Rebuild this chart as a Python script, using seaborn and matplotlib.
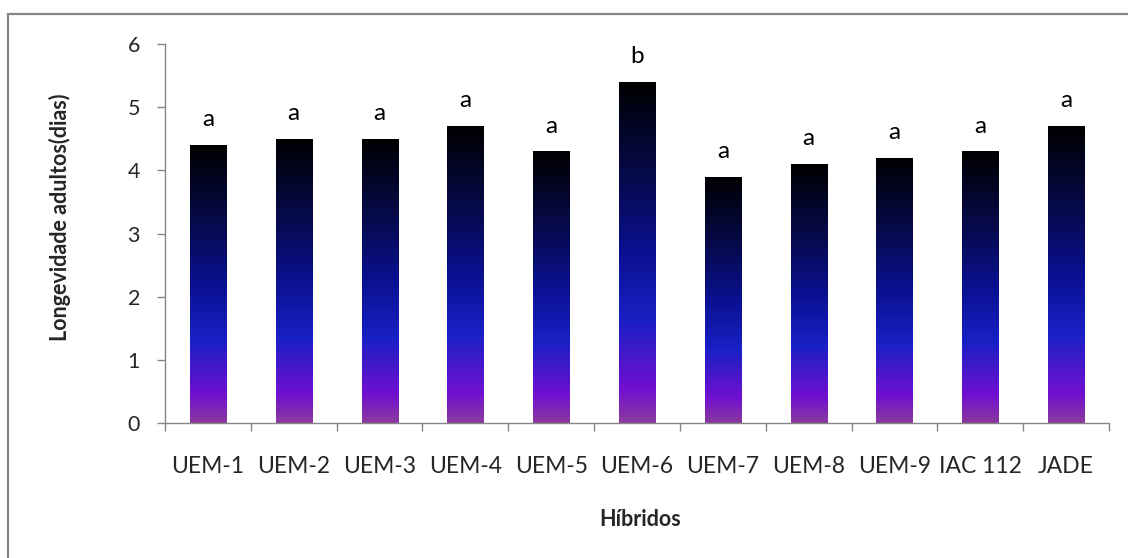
import numpy as np
import pandas as pd
import matplotlib
matplotlib.use("Agg")
import matplotlib.pyplot as plt
import seaborn as sns
from matplotlib.colors import LinearSegmentedColormap
from matplotlib.patches import Rectangle

hibridos = ["UEM-1", "UEM-2", "UEM-3", "UEM-4", "UEM-5", "UEM-6",
            "UEM-7", "UEM-8", "UEM-9", "IAC 112", "JADE"]
longevidade = [4.4, 4.5, 4.5, 4.7, 4.3, 5.4, 3.9, 4.1, 4.2, 4.3, 4.7]
letras = ["a", "a", "a", "a", "a", "b", "a", "a", "a", "a", "a"]
yticks = [0, 1, 2, 3, 4, 5, 6]

sns.set_theme(style="white")
plt.rcParams['font.family'] = ['Lato', 'DejaVu Sans']

df = pd.DataFrame({"Híbridos": hibridos, "Longevidade": longevidade})

fig = plt.figure(figsize=(11.28, 5.58), dpi=100)
ax = fig.add_axes([165/1128, (558-423)/558, (1109-165)/1128, (423-44)/558])

sns.barplot(data=df, x="Híbridos", y="Longevidade", ax=ax, width=0.42,
            color="#1820c4", saturation=1)

cmap = LinearSegmentedColormap.from_list("grad", [
    (0.0, "#8b3a9e"), (0.1, "#7010d0"), (0.3, "#1820c4"),
    (0.5, "#0a1090"), (0.72, "#060a4c"), (1.0, "#000000")])
grad = np.linspace(0, 1, 256).reshape(-1, 1)

ax.set_ylim(0, 6)
ax.set_xlim(-0.5, len(hibridos) - 0.5)

for p in list(ax.patches):
    x0, y0 = p.get_x(), p.get_y()
    w, h = p.get_width(), p.get_height()
    im = ax.imshow(grad, cmap=cmap, origin="lower", aspect="auto",
                   extent=[x0, x0 + w, y0, y0 + h], zorder=2,
                   interpolation="bilinear")
    im.set_clip_path(p)
    p.set_facecolor("none")
    p.set_edgecolor("none")

ax.set_xlim(-0.5, len(hibridos) - 0.5)
ax.set_ylim(0, 6)

for i, (v, l) in enumerate(zip(longevidade, letras)):
    ax.annotate(l, xy=(i, v), xytext=(0, 13.5), textcoords="offset points",
                ha="center", va="baseline", fontsize=17.5, color="black")

gray = "#868686"
for s in ["top", "right"]:
    ax.spines[s].set_visible(False)
for s in ["left", "bottom"]:
    ax.spines[s].set_color(gray)
    ax.spines[s].set_linewidth(1.0)

ax.set_yticks(yticks)
ax.set_yticklabels([str(t) for t in yticks], fontsize=15.5)
ax.tick_params(axis="y", which="major", left=True, length=6, width=1,
               color=gray, pad=12)
ax.set_xticks(range(len(hibridos)))
ax.set_xticklabels(hibridos, fontsize=16.5)
ax.set_xticks(np.arange(-0.5, len(hibridos)), minor=True)
ax.tick_params(axis="x", which="major", bottom=False, length=0, pad=24)
ax.tick_params(axis="x", which="minor", bottom=True, length=6, width=1,
               color=gray)

ax.set_xlabel("Híbridos", fontsize=15.5, fontweight="bold")
ax.set_ylabel("Longevidade adultos(dias)", fontsize=15.5, fontweight="bold")
ax.xaxis.label.set(va="center", ha="center")
ax.yaxis.label.set(va="center", ha="center", rotation_mode="anchor")
ax.xaxis.set_label_coords((640 - 165) / 944, (423 - 520) / 379)
ax.yaxis.set_label_coords((60 - 165) / 944, (423 - 217) / 379)

border = Rectangle((8/1128, -0.1), 1.2, (558-14)/558 + 0.1,
                   transform=fig.transFigure, fill=False,
                   edgecolor=gray, linewidth=1.6, clip_on=False)
fig.patches.append(border)

fig.savefig("out.png", dpi=100)
